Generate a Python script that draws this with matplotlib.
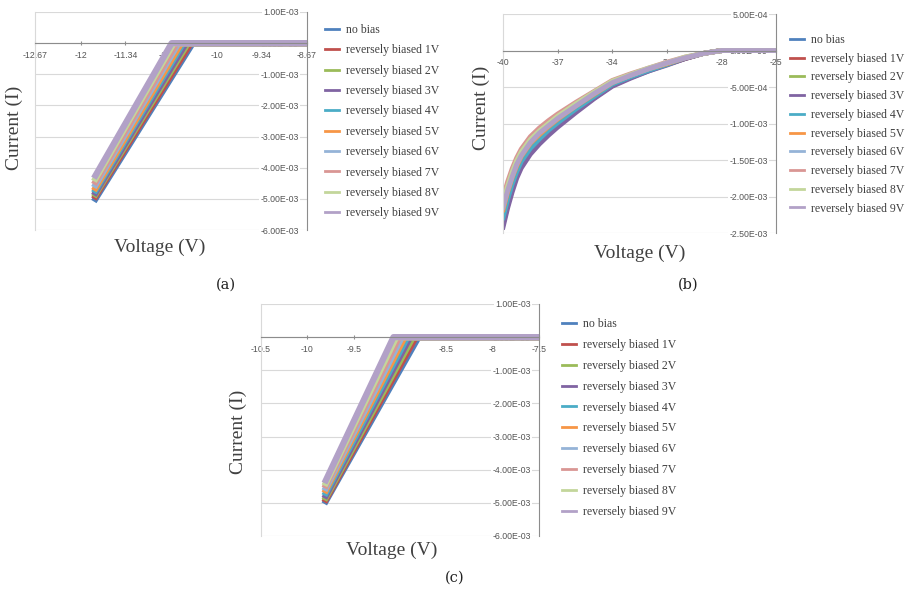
import matplotlib
matplotlib.use("Agg")
import matplotlib.pyplot as plt
from matplotlib.ticker import FuncFormatter

names = ["no bias"] + ["reversely biased %dV" % k for k in range(1, 10)]
colors = ["#4F81BD", "#C0504D", "#9BBB59", "#8064A2", "#4BACC6",
          "#F79646", "#95B3D7", "#D99694", "#C3D69B", "#B2A1C7"]

# (a) currents in mA
a_start_v = -11.78
a_start_i = [-5.00, -4.92, -4.85, -4.80, -4.72, -4.65, -4.55, -4.45, -4.35, -4.25]
a_knee_v = [-10.35, -10.38, -10.42, -10.45, -10.49, -10.52, -10.56, -10.59, -10.63, -10.66]
a_end_v = -8.67
a_xticks = [-12.67, -12, -11.34, -10.67, -10, -9.34, -8.67]
a_yticks = [1e-3, 0.0, -1e-3, -2e-3, -3e-3, -4e-3, -5e-3, -6e-3]

# (b)
b_v = [-40, -39.75, -39.5, -39.25, -39, -38.5, -38, -37.5, -37, -36,
       -35, -34, -33, -32, -31, -30, -29, -28, -25]
b_i = [
    [-2.38, -2.12, -1.90, -1.72, -1.58, -1.39, -1.25, -1.13, -1.03, -0.83, -0.65, -0.48, -0.37, -0.28, -0.19, -0.11, -0.04, 0, 0],
    [-2.33, -2.08, -1.87, -1.69, -1.55, -1.37, -1.23, -1.11, -1.01, -0.82, -0.64, -0.47, -0.37, -0.27, -0.19, -0.11, -0.04, 0, 0],
    [-2.22, -1.98, -1.78, -1.61, -1.48, -1.30, -1.17, -1.06, -0.96, -0.78, -0.61, -0.45, -0.35, -0.26, -0.18, -0.10, -0.04, 0, 0],
    [-2.42, -2.16, -1.94, -1.75, -1.61, -1.42, -1.28, -1.16, -1.05, -0.85, -0.66, -0.49, -0.38, -0.28, -0.20, -0.11, -0.04, 0, 0],
    [-2.29, -2.04, -1.83, -1.66, -1.52, -1.34, -1.21, -1.09, -0.99, -0.80, -0.63, -0.46, -0.36, -0.27, -0.19, -0.10, -0.04, 0, 0],
    [-2.18, -1.94, -1.74, -1.58, -1.45, -1.27, -1.15, -1.04, -0.94, -0.76, -0.60, -0.44, -0.34, -0.25, -0.18, -0.10, -0.04, 0, 0],
    [-2.13, -1.90, -1.71, -1.55, -1.42, -1.25, -1.12, -1.02, -0.92, -0.75, -0.59, -0.43, -0.34, -0.25, -0.17, -0.10, -0.04, 0, 0],
    [-2.02, -1.80, -1.62, -1.47, -1.35, -1.18, -1.06, -0.96, -0.87, -0.71, -0.56, -0.41, -0.32, -0.24, -0.16, -0.09, -0.04, 0, 0],
    [-2.09, -1.86, -1.67, -1.51, -1.39, -1.22, -1.10, -1.00, -0.90, -0.73, -0.57, -0.42, -0.33, -0.24, -0.17, -0.09, -0.04, 0, 0],
    [-2.15, -1.92, -1.73, -1.56, -1.44, -1.26, -1.13, -1.03, -0.93, -0.76, -0.59, -0.44, -0.34, -0.25, -0.17, -0.10, -0.04, 0, 0],
]
b_xticks = [-40, -37, -34, -31, -28, -25]
b_yticks = [5e-4, 0.0, -5e-4, -1e-3, -1.5e-3, -2e-3, -2.5e-3]

# (c)
c_start_v = -9.80
c_start_i = [-4.95, -4.90, -4.84, -4.78, -4.70, -4.62, -4.55, -4.47, -4.40, -4.32]
c_knee_v = [-8.80, -8.83, -8.86, -8.89, -8.92, -8.95, -8.98, -9.01, -9.04, -9.07]
c_end_v = -7.5
c_xticks = [-10.5, -10, -9.5, -9, -8.5, -8, -7.5]
c_yticks = [1e-3, 0.0, -1e-3, -2e-3, -3e-3, -4e-3, -5e-3, -6e-3]

serif = "Liberation Serif"
sans = "Liberation Sans"
txt = "#404040"

fig = plt.figure(figsize=(9.08, 5.97), dpi=100)


def style(ax, xticks, yticks):
    ax.set_xlim(xticks[0], xticks[-1])
    ax.set_ylim(yticks[-1], yticks[0])
    ax.set_xticks(xticks)
    ax.set_xticklabels(["%g" % t for t in xticks])
    ax.set_yticks(yticks)
    ax.yaxis.set_major_formatter(FuncFormatter(lambda v, p: "%.2E" % v))
    ax.spines["top"].set_visible(False)
    ax.spines["left"].set_color("#d9d9d9")
    ax.spines["bottom"].set_position(("data", 0))
    ax.spines["bottom"].set_color("#8c8c8c")
    ax.spines["right"].set_color("#8c8c8c")
    ax.grid(axis="y", color="#d9d9d9", lw=0.8)
    ax.yaxis.tick_right()
    ax.tick_params(axis="y", length=0, pad=-6, labelsize=6.3, labelcolor="#555555")
    ax.tick_params(axis="x", direction="inout", length=3, color="#8c8c8c",
                   labelsize=6.3, labelcolor="#555555", pad=4)
    for lab in ax.get_xticklabels() + ax.get_yticklabels():
        lab.set_family(sans)
    plt.setp(ax.get_yticklabels(), ha="right",
             bbox=dict(fc="white", ec="none", pad=0.6))


def labels(ax, xl, yl, leg_xy, spacing):
    ax.text(xl[0], xl[1], "Voltage (V)", transform=ax.transAxes, ha="center",
            va="center", family=serif, size=14, color=txt)
    ax.text(yl[0], yl[1], "Current (I)", transform=ax.transAxes, ha="center",
            va="center", rotation=90, family=serif, size=14, color=txt)
    leg = ax.legend(loc="upper left", bbox_to_anchor=leg_xy, bbox_transform=fig.transFigure,
                    frameon=False, prop=dict(family=serif, size=8.5), labelcolor=txt,
                    handlelength=1.2, handletextpad=0.6, labelspacing=spacing,
                    borderpad=0, borderaxespad=0)
    for h in leg.legend_handles:
        h.set_linewidth(2)


# panel (a)
ax_a = fig.add_axes([0.0385, 0.6147, 0.2996, 0.3652])
for k in range(10):
    ax_a.plot([a_start_v, a_knee_v[k], a_end_v],
              [a_start_i[k] * 1e-3, 0, 0], color=colors[k], lw=4.5, label=names[k])
style(ax_a, a_xticks, a_yticks)
labels(ax_a, (0.46, -0.078), (-0.074, 0.47), (0.358, 0.960), 0.71)

# panel (b)
ax_b = fig.add_axes([0.554, 0.6097, 0.3007, 0.3668])
for k in range(10):
    ax_b.plot(b_v, [i * 1e-3 for i in b_i[k]], color=colors[k], lw=3.5, label=names[k],
              solid_joinstyle="round")
style(ax_b, b_xticks, b_yticks)
labels(ax_b, (0.50, -0.091), (-0.08, 0.57), (0.870, 0.943), 0.57)

# panel (c)
ax_c = fig.add_axes([0.2874, 0.1022, 0.3062, 0.3886])
for k in range(10):
    ax_c.plot([c_start_v, c_knee_v[k], c_end_v],
              [c_start_i[k] * 1e-3, 0, 0], color=colors[k], lw=4.5, label=names[k])
style(ax_c, c_xticks, c_yticks)
labels(ax_c, (0.47, -0.06), (-0.083, 0.45), (0.619, 0.467), 0.75)

for cx, cy, cap in [(226, 285, "(a)"), (688, 285, "(b)"), (455, 578, "(c)")]:
    fig.text(cx / 908, 1 - cy / 597, cap, ha="center", va="center",
             family="DejaVu Serif", size=10.5, color="#222222")

fig.savefig("out.png", dpi=100)
